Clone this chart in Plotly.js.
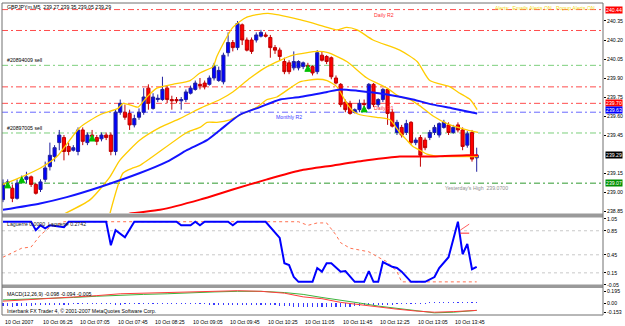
<!DOCTYPE html>
<html><head><meta charset="utf-8">
<script src="https://cdn.plot.ly/plotly-3.0.1.min.js"></script>
<style>html,body{margin:0;padding:0;background:#fff}#chart{width:625px;height:326px}</style>
</head><body><div id="chart"></div>
<script>
// ---------- DATA (GBPJPYm, M5, 10 Oct 2007) ----------
const openP = [238.94,239.07,239.03,238.95,239.09,239.10,239.12,239.06,239.02,239.10,
239.20,239.28,239.39,239.43,239.36,239.33,239.32,239.49,239.39,239.45,
239.43,239.42,239.45,239.45,239.32,239.63,239.63,239.62,239.53,239.59,
239.63,239.82,239.66,239.73,239.73,239.82,239.73,239.73,239.72,239.73,
239.78,239.81,239.85,239.86,239.85,239.90,239.88,239.87,240.10,240.18,
240.14,240.32,240.20,240.20,240.20,240.23,240.24,240.22,240.14,240.12,
240.03,240.02,239.98,239.98,239.99,240.00,239.99,239.95,240.08,240.07,
240.06,239.90,239.85,239.71,239.70,239.63,239.65,239.70,239.66,239.85,
239.69,239.73,239.81,239.63,239.47,239.51,239.47,239.55,239.39,239.43,
239.41,239.43,239.47,239.45,239.51,239.53,239.47,239.53,239.49,239.37,
239.47,239.27];
const highP = [239.10,239.10,239.06,239.10,239.13,239.16,239.13,239.07,239.10,239.24,
239.39,239.37,239.49,239.45,239.39,239.37,239.51,239.51,239.47,239.49,
239.45,239.47,239.47,239.47,239.65,239.73,239.69,239.65,239.61,239.66,
239.82,239.85,239.78,239.77,239.91,239.84,239.76,239.75,239.75,239.81,
239.84,239.88,239.90,239.88,239.92,240.02,239.99,240.10,240.26,240.20,
240.35,240.33,240.22,240.22,240.26,240.28,240.26,240.24,240.16,240.14,
240.06,240.04,240.11,240.04,240.03,240.02,240.00,240.12,240.11,240.08,
240.07,239.92,239.86,239.73,239.72,239.66,239.73,239.73,239.86,239.86,
239.74,239.82,239.82,239.65,239.57,239.53,239.57,239.56,239.43,239.45,
239.43,239.49,239.53,239.55,239.57,239.55,239.53,239.55,239.51,239.48,
239.49,239.35];
const lowP = [238.92,239.06,238.92,238.94,239.07,239.07,239.04,238.98,239.00,239.08,
239.17,239.24,239.33,239.25,239.29,239.32,239.29,239.37,239.37,239.41,
239.37,239.40,239.41,239.29,239.29,239.61,239.57,239.49,239.51,239.57,
239.61,239.65,239.65,239.71,239.72,239.70,239.65,239.70,239.65,239.71,
239.77,239.80,239.81,239.81,239.84,239.88,239.87,239.85,240.07,240.11,
240.12,240.16,240.11,240.09,240.18,240.22,240.22,240.06,240.09,240.04,
239.93,239.93,239.96,239.96,239.97,239.99,239.92,239.93,240.03,240.01,
239.89,239.85,239.67,239.63,239.61,239.62,239.63,239.66,239.65,239.67,
239.67,239.71,239.53,239.51,239.45,239.43,239.45,239.37,239.37,239.20,
239.33,239.41,239.45,239.43,239.50,239.45,239.46,239.47,239.33,239.35,
239.24,239.16];
const closeP = [239.06,239.08,238.95,239.07,239.10,239.12,239.06,238.99,239.08,239.19,
239.29,239.35,239.45,239.32,239.32,239.35,239.49,239.40,239.45,239.44,
239.40,239.45,239.43,239.32,239.63,239.70,239.59,239.53,239.58,239.63,
239.75,239.70,239.75,239.74,239.81,239.73,239.72,239.72,239.73,239.79,
239.82,239.86,239.84,239.83,239.90,239.99,239.96,240.08,240.18,240.14,
240.33,240.20,240.12,240.11,240.24,240.26,240.23,240.14,240.12,240.07,
239.95,239.95,240.03,240.03,240.02,239.99,239.94,240.10,240.04,240.03,
239.91,239.86,239.69,239.65,239.62,239.65,239.70,239.69,239.85,239.69,
239.73,239.81,239.62,239.52,239.55,239.45,239.54,239.39,239.41,239.29,
239.35,239.47,239.51,239.54,239.55,239.47,239.51,239.49,239.36,239.46,
239.26,239.29];

// Bollinger-type yellow bands (bar index, price)
const bbUpX = [0,4,8,11.5,16.4,20.7,24.5,25.6,27.7,28.8,30.7,32.8,36.2,39.9,42,44.8,45.6,49,52,56.5,63.3,69.1,71.2,73.3,75.5,78.9,84.6,88.3,91,95.3,97.4,99.6,101.1];
const bbUpY = [239.06,239.12,239.19,239.28,239.51,239.61,239.66,239.70,239.68,239.67,239.75,239.82,239.85,239.88,239.94,239.99,240.07,240.30,240.38,240.41,240.36,240.30,240.28,240.30,240.28,240.20,240.12,240.03,239.88,239.83,239.78,239.73,239.65];
const bbMidX = [13.2,18.6,22.8,24.9,29.2,33.5,37.7,42.0,46.3,49.0,52.7,56.3,61.8,67.2,69.3,73.3,77.6,81.9,84.6,86.8,88.9,91.7,94.7,98.9,101.3];
const bbMidY = [238.83,238.94,239.12,239.25,239.41,239.51,239.58,239.66,239.73,239.79,239.90,239.99,240.08,240.11,240.10,240.03,239.90,239.82,239.75,239.73,239.68,239.60,239.54,239.49,239.47];
const bbLowX = [22.8,25.6,27.7,29.2,39.2,42.0,43.5,45.6,48.4,51.2,54.2,56.3,58.4,63.3,67.0,69.1,71.2,73.3,74.6,76.1,79.7,82.5,84.6,86.1,87.4,88.9,90.4,93.8,97.4,101.3];
const bbLowY = [238.83,239.15,239.19,239.21,239.47,239.51,239.55,239.55,239.57,239.62,239.67,239.73,239.75,239.87,239.89,239.88,239.83,239.70,239.64,239.61,239.59,239.57,239.47,239.41,239.36,239.33,239.30,239.28,239.28,239.28];
// moving averages
const maBlueX = [0,7.9,13.6,20.7,29.2,35.0,39.2,43.5,46.3,50.5,54.8,59.1,63.3,69.1,71.9,75.5,81.9,87.4,91.7,95.9,101.1];
const maBlueY = [238.86,238.91,238.96,239.04,239.15,239.24,239.33,239.41,239.49,239.61,239.67,239.73,239.75,239.79,239.81,239.80,239.77,239.73,239.69,239.66,239.62];
const maRedX = [24.9,27.1,33.5,42.0,49.0,56.3,63.3,70.4,77.6,84.6,91.7,98.9,101.3];
const maRedY = [238.80,238.83,238.86,238.94,239.02,239.10,239.17,239.21,239.25,239.28,239.28,239.29,239.29];
// trade arrows
const arrowX = [1,4,19,65,77];
const arrowY = [239.08,239.12,239.45,240.00,239.68];
// horizontal levels
const levelPrices = [240.44,240.275,239.83,239.70,240.00,239.466,239.07,239.63];
const boxPrices = [240.44,239.70,239.63,239.29,239.07];
const mainTicks = [240.35,240.20,240.05,239.90,239.75,239.60,239.45,239.15,239.00,238.85];

// Laguerre
const lagBlueX = [0,6,7,8,9,10,13,14,22,23,24,26,28,37,38,40,41,42,43,48,49,50,56,58,59,60,61,62,63,66,67,68,69,70,72,73,75,77,78,79,80,81,83,84,85,87,90,92,93,95,97,98,99,100,101];
const lagBlueY = [1,1,0.86,0.94,0.89,0.94,0.91,1,1,0.61,0.86,0.74,1,1,0.94,0.94,1,0.94,1,1,0.94,1,1,0.81,0.73,0.31,0.28,0.08,0,0,0.23,0.17,0.31,0.31,0.17,0.18,0,0,0.18,0,0,0.33,0.25,0.23,0.17,0,0,0.08,0.23,0.41,1.0,0.46,0.63,0.21,0.25];
const lagRedX = [0,4,6,8,10,13,63,65,67,69,71,72,74,78,80,82,84,85,101];
const lagRedY = [0.41,0.56,0.58,0.78,0.91,1.0,1.0,0.94,0.98,0.98,0.78,0.65,0.56,0.50,0.41,0.33,0.17,0.0,0.0];
const lagSpikeX = [97.5,99.4];
const lagSpikeY = [0.86,0.96];
const lagFlatY = [0.81,0.81];
const lagLevels = [0.85,0.45,0.15];
const lagTicks = [1.05,0.85,0.45,0.15,-0.05];

// MACD
const macdX = [0,5,10,15,20,25,30,35,40,45,50,55,60,64,68,72,76,80,84,88,92,96,101];
const macdMain = [0.03,0.05,0.08,0.10,0.12,0.15,0.16,0.17,0.18,0.19,0.20,0.19,0.16,0.10,0.07,0.01,-0.03,-0.07,-0.10,-0.13,-0.15,-0.14,-0.12];
const macdSig = [0.05,0.06,0.07,0.09,0.11,0.13,0.14,0.15,0.17,0.18,0.19,0.19,0.17,0.14,0.09,0.05,0.0,-0.05,-0.09,-0.12,-0.16,-0.15,-0.12];
const macdHist = [-0.05,-0.05,-0.06,-0.05,-0.05,-0.05,-0.05,-0.04,-0.04,-0.04,
-0.04,-0.03,-0.03,-0.03,-0.03,-0.02,-0.02,-0.02,-0.02,-0.02,
-0.02,-0.02,-0.02,-0.02,-0.03,-0.03,-0.02,-0.02,-0.02,-0.01,
-0.01,-0.01,-0.02,-0.02,-0.01,-0.01,-0.01,-0.01,-0.01,-0.02,
-0.02,-0.02,-0.02,-0.02,-0.03,-0.03,-0.03,-0.03,-0.03,-0.03,
-0.03,-0.03,-0.03,-0.03,-0.03,-0.03,-0.04,-0.04,-0.04,-0.05,
-0.05,-0.05,-0.06,-0.06,-0.06,-0.06,-0.07,-0.07,-0.07,-0.07,
-0.07,-0.07,-0.07,-0.06,-0.06,-0.05,-0.05,-0.04,-0.04,-0.03,
-0.03,-0.03,-0.03,-0.03,-0.02,-0.02,-0.02,-0.02,-0.01,-0.01,
-0.01,0.01,0.01,0.01,0.02,0.02,0.02,0.02,0.02,0.01,
0.01,0.01];
const macdTicks = [0.195,0,-0.153];

// time axis
const timeTickBars = [0,8,16,24,32,40,48,56,64,72,80,88,96];
const timeLabels = ["10 Oct 2007","10 Oct 06:25","10 Oct 07:05","10 Oct 07:45","10 Oct 08:25","10 Oct 09:05","10 Oct 09:45","10 Oct 10:25","10 Oct 11:05","10 Oct 11:45","10 Oct 12:25","10 Oct 13:05","10 Oct 13:45"];

// ---------- STYLE ----------
const F = 'Liberation Sans, Arial, sans-serif';
const FS = 5.2;
const YEL = '#ffcc00';
const levelColors = ['#ff4d4d','#ff4d4d','#ff4d4d','#ff4d4d','#7ccf7c','#7ccf7c','#2e9a2e','#6a6aff'];
const boxColors = ['#ff0000','#ff0000','#0000ff','#000000','#009000'];
const boxShift = [0,0,2,0,0];

const traces = [];
traces.push({type:'candlestick', open:openP, high:highP, low:lowP, close:closeP,
  xaxis:'x', yaxis:'y', hoverinfo:'skip', whiskerwidth:0,
  increasing:{fillcolor:'#0000ff', line:{color:'#2020a0', width:1}},
  decreasing:{fillcolor:'#ff0000', line:{color:'#c00000', width:1}}});
const ln = (x,y,color,width,yaxis,dash) => ({type:'scatter', mode:'lines', x:x, y:y, xaxis:'x', yaxis:yaxis||'y',
  line:{color:color, width:width, dash:dash||'solid', shape:'spline', smoothing:0.6}, hoverinfo:'skip'});
traces.push(ln(bbUpX,bbUpY,YEL,1.3));
traces.push(ln(bbMidX,bbMidY,YEL,1.3));
traces.push(ln(bbLowX,bbLowY,YEL,1.3));
traces.push(ln(maBlueX,maBlueY,'#1414ff',2));
traces.push(ln(maRedX,maRedY,'#ff0000',2));
traces.push({type:'scatter', mode:'markers', x:arrowX, y:arrowY, xaxis:'x', yaxis:'y', hoverinfo:'skip',
  marker:{symbol:'arrow-up', size:6, color:'#00c000', line:{color:'#00c000', width:1}}});
// Laguerre
const lnL = (x,y,color,width,dash) => ({type:'scatter', mode:'lines', x:x, y:y, xaxis:'x', yaxis:'y2',
  line:{color:color, width:width, dash:dash||'solid'}, hoverinfo:'skip'});
traces.push(lnL(lagRedX,lagRedY,'#ff7050',1,'dot'));
traces.push(lnL(lagBlueX,lagBlueY,'#0000ff',2));
traces.push(lnL(lagSpikeX,lagSpikeY,'#ff6060',1));
traces.push(lnL(lagSpikeX,lagFlatY,'#ff3030',1));
// MACD
traces.push({type:'bar', y:macdHist, xaxis:'x', yaxis:'y3', width:0.25, marker:{color:'#3a3aff', line:{width:0}}, hoverinfo:'skip'});
traces.push({type:'scatter', mode:'lines', x:macdX, y:macdSig, xaxis:'x', yaxis:'y3', line:{color:'#3cb43c', width:1}, hoverinfo:'skip'});
traces.push({type:'scatter', mode:'lines', x:macdX, y:macdMain, xaxis:'x', yaxis:'y3', line:{color:'#ff3c3c', width:1}, hoverinfo:'skip'});

// ---------- SHAPES ----------
const shapes = [];
levelPrices.forEach((p,i) => shapes.push({type:'line', xref:'paper', yref:'y', x0:0, x1:1, y0:p, y1:p,
  line:{color:levelColors[i], width:1, dash:'6px,3px,2px,3px'}, layer:'below'}));
lagLevels.forEach(v => shapes.push({type:'line', xref:'paper', yref:'y2', x0:0, x1:1, y0:v, y1:v,
  line:{color:'#c8c8c8', width:1, dash:'dot'}, layer:'below'}));
const PH = 312, pY = px => (315 - px)/PH;
shapes.push({type:'rect', xref:'paper', yref:'paper', x0:0, x1:1, y0:pY(217.5), y1:pY(213.5), fillcolor:'#9a9a9a', line:{width:0}});
shapes.push({type:'rect', xref:'paper', yref:'paper', x0:0, x1:1, y0:pY(288), y1:pY(284.5), fillcolor:'#9a9a9a', line:{width:0}});
shapes.push({type:'rect', xref:'paper', yref:'paper', x0:0, x1:1, y0:0, y1:1, line:{color:'#707070', width:1}});

// ---------- ANNOTATIONS ----------
const ann = [];
const T = (o, color, size) => ann.push(Object.assign({showarrow:false, font:{family:F, size:size||FS, color:color||'#000'}}, o));
T({xref:'paper', yref:'paper', x:0.005, y:pY(7), xanchor:'left', yanchor:'middle', text:'GBPJPYm,M5  239.27 239.35 239.05 239.29'});
T({xref:'paper', yref:'paper', x:0.99, y:pY(8), xanchor:'right', yanchor:'middle', text:'Alerts:  Emails Alerts ON   Popup Alerts ON'}, '#f2dc20');
T({xref:'paper', yref:'y', x:0.005, y:levelPrices[4], xanchor:'left', yanchor:'bottom', text:'#20894009 sell'});
T({xref:'paper', yref:'y', x:0.005, y:levelPrices[5], xanchor:'left', yanchor:'bottom', text:'#20897005 sell'});
T({xref:'x', yref:'y', x:78.7, y:levelPrices[0], xanchor:'left', yanchor:'top', text:'Daily R2'}, '#ff3030');
T({xref:'x', yref:'y', x:78.7, y:levelPrices[3], xanchor:'left', yanchor:'top', text:'Daily R1'}, '#ff3030');
T({xref:'x', yref:'y', x:57.8, y:levelPrices[7], xanchor:'left', yanchor:'top', text:'Monthly R2'}, '#4040ff');
T({xref:'x', yref:'y', x:93.8, y:levelPrices[6], xanchor:'left', yanchor:'top', text:"Yesterday's High  239.0700"}, '#909090');
T({xref:'paper', yref:'paper', x:0.005, y:pY(224), xanchor:'left', yanchor:'middle', text:'Laguerre 0.0000  Laguerre 0.2742'}, '#202020');
T({xref:'paper', yref:'paper', x:0.005, y:pY(294), xanchor:'left', yanchor:'middle', text:'MACD(12,26,9) -0.098 -0.094 -0.005'});
T({xref:'paper', yref:'paper', x:0.005, y:pY(311), xanchor:'left', yanchor:'middle', text:'Interbank FX Trader 4, © 2001-2007 MetaQuotes Software Corp.'});
timeTickBars.forEach((b,i) => T({xref:'x', yref:'paper', x:b, y:pY(322), xanchor:'left', yanchor:'middle', text:timeLabels[i]}));
boxPrices.forEach((p,i) => ann.push({showarrow:false, xref:'paper', yref:'y', x:1, y:p, xanchor:'left', yanchor:'middle', xshift:2, yshift:boxShift[i],
  text:p.toFixed(2), bgcolor:boxColors[i], borderpad:0, font:{family:F, size:FS, color:'#fff'}}));

const axisCommon = {side:'right', ticks:'outside', ticklen:2, tickcolor:'#000', showgrid:false, zeroline:false,
  showline:false, tickfont:{family:F, size:FS, color:'#000'}, fixedrange:true, anchor:'x'};
const layout = {
  width:625, height:326, margin:{l:2, r:22, t:3, b:11, pad:0},
  paper_bgcolor:'#ffffff', plot_bgcolor:'#ffffff', showlegend:false,
  boxgap:0.3, boxgroupgap:0.05, bargap:0,
  font:{family:F, size:FS, color:'#000'},
  xaxis:{domain:[0,1], range:[-0.21,127.93], anchor:'y3', showticklabels:false, showgrid:false, zeroline:false,
         ticks:'', showline:false, rangeslider:{visible:false}, fixedrange:true},
  yaxis:Object.assign({}, axisCommon, {domain:[pY(213),1], range:[238.8345,240.492], tickvals:mainTicks, tickformat:'.2f'}),
  yaxis2:Object.assign({}, axisCommon, {domain:[pY(285),pY(218)], range:[-0.052,1.062], tickvals:lagTicks, ticktext:lagTicks.map(v=>v.toFixed(2))}),
  yaxis3:Object.assign({}, axisCommon, {domain:[0,pY(288)], range:[-0.195,0.244], tickvals:macdTicks, ticktext:['0.195','0.00','-0.153']}),
  shapes:shapes, annotations:ann
};
Plotly.newPlot('chart', traces, layout, {staticPlot:true, displayModeBar:false});
</script></body></html>
